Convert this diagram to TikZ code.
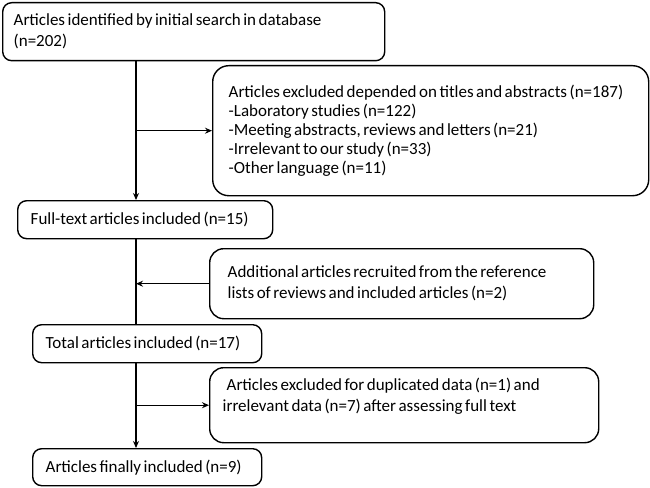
\documentclass[tikz,border=0pt]{standalone}
\usepackage{fontspec}
\setmainfont{Carlito}
\usetikzlibrary{arrows.meta}
\newcommand\bxfont{\fontsize{17}{21}\selectfont}
\begin{document}
\begin{tikzpicture}[x=1pt,y=-1pt,
  box/.style={draw, line width=1.4pt, rounded corners=9pt, anchor=north west, align=left,
    font=\bxfont, inner ysep=0pt,
    execute at begin node={\spaceskip=2.5pt plus 1pt minus 0.5pt\relax}},
  arr/.style={line width=1.4pt, -{Stealth[length=7pt,width=6pt]}},
  ln/.style={line width=1.4pt}]
\useasboundingbox (0,0) rectangle (650,487);
\node[box, minimum width=382pt, minimum height=58pt, inner xsep=11pt, text width=360pt] (b1) at (2,2)
  {Articles identified by initial search in database\\(n=202)};
\node[box, rounded corners=16pt, minimum width=436pt, minimum height=130pt, inner xsep=16pt, text width=404pt] (b2) at (212,65)
  {Articles excluded depended on titles and abstracts (n=187)\\[-2pt]-Laboratory studies (n=122)\\[-2pt]-Meeting abstracts, reviews and letters (n=21)\\[-2pt]-Irrelevant to our study (n=33)\\[-2pt]-Other language (n=11)};
\node[box, minimum width=255pt, minimum height=38pt, inner xsep=13pt, text width=229pt] (b3) at (17,200)
  {Full-text articles included (n=15)};
\node[box, rounded corners=14pt, minimum width=384pt, minimum height=70pt, inner xsep=18pt, text width=348pt] (b4) at (209,248)
  {Additional articles recruited from the reference\\lists of reviews and included articles (n=2)};
\node[box, minimum width=229pt, minimum height=38pt, inner xsep=13pt, text width=203pt] (b5) at (32,324)
  {Total articles included (n=17)};
\node[box, rounded corners=14pt, minimum width=389pt, minimum height=75pt, inner xsep=13pt, text width=363pt] (b6) at (209,367)
  {\hspace*{4pt}Articles excluded for duplicated data (n=1) and\\irrelevant data (n=7) after assessing full text\\\mbox{}};
\node[box, minimum width=229pt, minimum height=37pt, inner xsep=13pt, text width=203pt] (b7) at (32,448)
  {Articles finally included (n=9)};
\coordinate (v) at (136,0);
\draw[arr] (b1.south -| v) -- (b3.north -| v);
\draw[arr] (b2.west -| v) -- (b2.west);
\draw[ln] (b3.south -| v) -- (b5.north -| v);
\draw[arr] (b4.west) -- (b4.west -| v);
\draw[arr] (b5.south -| v) -- (b7.north -| v);
\draw[arr] (b6.west -| v) -- (b6.west);
\end{tikzpicture}
\end{document}
